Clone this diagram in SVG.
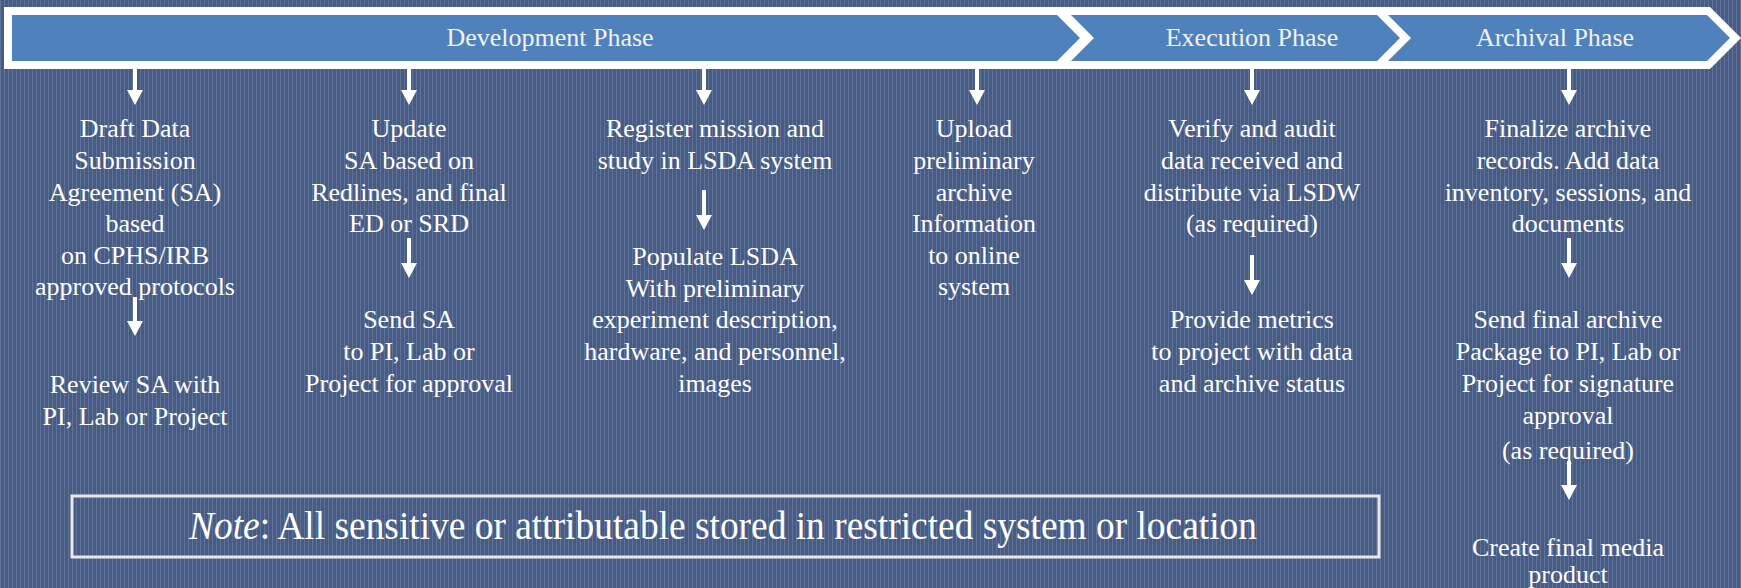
<svg xmlns="http://www.w3.org/2000/svg" width="1741" height="588" viewBox="0 0 1741 588">
<defs>
<pattern id="stripes" width="4" height="8" patternUnits="userSpaceOnUse">
<rect width="4" height="8" fill="#485b82"/>
<rect width="1" height="8" fill="#5f729a"/>
</pattern>
<marker id="head" viewBox="0 0 15 16" markerWidth="15" markerHeight="16" refX="4" refY="8" orient="auto" markerUnits="userSpaceOnUse">
<path d="M0,0 L15,8 L0,16 z" fill="#ffffff"/>
</marker>
<style>
.t{font-family:"Liberation Serif","Times New Roman",serif;font-size:26px;fill:#ffffff;text-anchor:middle}
.ph{font-family:"Liberation Serif","Times New Roman",serif;font-size:26px;fill:#f2f2f2;text-anchor:middle}
.band{fill:#4f81bd}
.arr{stroke:#ffffff;stroke-width:4;fill:none;marker-end:url(#head)}
.note{font-family:"Liberation Serif","Times New Roman",serif;font-size:40px;fill:#ffffff}
</style>
</defs>
<rect width="1741" height="588" fill="url(#stripes)"/>

<g id="connectors">
<line class="arr" x1="135" y1="67" x2="135" y2="94"/>
<line class="arr" x1="409" y1="67" x2="409" y2="94"/>
<line class="arr" x1="704" y1="67" x2="704" y2="94"/>
<line class="arr" x1="977" y1="67" x2="977" y2="94"/>
<line class="arr" x1="1252" y1="67" x2="1252" y2="94"/>
<line class="arr" x1="1569" y1="67" x2="1569" y2="94"/>
<line class="arr" x1="135" y1="297" x2="135" y2="325"/>
<line class="arr" x1="409" y1="238" x2="409" y2="267"/>
<line class="arr" x1="704" y1="190" x2="704" y2="219"/>
<line class="arr" x1="1252" y1="255" x2="1252" y2="284"/>
<line class="arr" x1="1569" y1="238" x2="1569" y2="267"/>
<line class="arr" x1="1569" y1="461" x2="1569" y2="489"/>
</g>

<g id="banner">
<polygon points="4,7 1710,7 1741,38 1710,69 4,69" fill="#ffffff"/>
<g id="development-phase">
<polygon class="band" points="12,15 1057,15 1080,38 1057,61 12,61"/>
<text class="ph" x="550" y="46">Development Phase</text>
</g>
<g id="execution-phase">
<polygon class="band" points="1071,15 1377,15 1400,38 1377,61 1071,61 1094,38"/>
<text class="ph" x="1252" y="46">Execution Phase</text>
</g>
<g id="archival-phase">
<polygon class="band" points="1388,15 1707,15 1730,38 1707,61 1388,61 1411,38"/>
<text class="ph" x="1555" y="46">Archival Phase</text>
</g>
</g>

<g id="draft-sa">
<text class="t" x="135" y="137">Draft Data</text>
<text class="t" x="135" y="169">Submission</text>
<text class="t" x="135" y="201">Agreement (SA)</text>
<text class="t" x="135" y="232">based</text>
<text class="t" x="135" y="264">on CPHS/IRB</text>
<text class="t" x="135" y="295">approved protocols</text>
</g>
<g id="review-sa">
<text class="t" x="135" y="393">Review SA with</text>
<text class="t" x="135" y="425">PI, Lab or Project</text>
</g>

<g id="update-sa">
<text class="t" x="409" y="137">Update</text>
<text class="t" x="409" y="169">SA based on</text>
<text class="t" x="409" y="201">Redlines, and final</text>
<text class="t" x="409" y="232">ED or SRD</text>
</g>
<g id="send-sa">
<text class="t" x="409" y="328">Send SA</text>
<text class="t" x="409" y="360">to PI, Lab or</text>
<text class="t" x="409" y="392">Project for approval</text>
</g>

<g id="register-mission">
<text class="t" x="715" y="137">Register mission and</text>
<text class="t" x="715" y="169">study in LSDA system</text>
</g>
<g id="populate-lsda">
<text class="t" x="715" y="265">Populate LSDA</text>
<text class="t" x="715" y="297">With preliminary</text>
<text class="t" x="715" y="328">experiment description,</text>
<text class="t" x="715" y="360">hardware, and personnel,</text>
<text class="t" x="715" y="392">images</text>
</g>

<g id="upload-archive">
<text class="t" x="974" y="137">Upload</text>
<text class="t" x="974" y="169">preliminary</text>
<text class="t" x="974" y="201">archive</text>
<text class="t" x="974" y="232">Information</text>
<text class="t" x="974" y="264">to online</text>
<text class="t" x="974" y="295">system</text>
</g>

<g id="verify-audit">
<text class="t" x="1252" y="137">Verify and audit</text>
<text class="t" x="1252" y="169">data received and</text>
<text class="t" x="1252" y="201">distribute via LSDW</text>
<text class="t" x="1252" y="232">(as required)</text>
</g>
<g id="provide-metrics">
<text class="t" x="1252" y="328">Provide metrics</text>
<text class="t" x="1252" y="360">to project with data</text>
<text class="t" x="1252" y="392">and archive status</text>
</g>

<g id="finalize-archive">
<text class="t" x="1568" y="137">Finalize archive</text>
<text class="t" x="1568" y="169">records. Add data</text>
<text class="t" x="1568" y="201">inventory, sessions, and</text>
<text class="t" x="1568" y="232">documents</text>
</g>
<g id="send-final-archive">
<text class="t" x="1568" y="328">Send final archive</text>
<text class="t" x="1568" y="360">Package to PI, Lab or</text>
<text class="t" x="1568" y="392">Project for signature</text>
<text class="t" x="1568" y="424">approval</text>
<text class="t" x="1568" y="459">(as required)</text>
</g>
<g id="create-media">
<text class="t" x="1568" y="556">Create final media</text>
<text class="t" x="1568" y="583">product</text>
</g>

<g id="note">
<rect x="72" y="496" width="1307" height="61" fill="none" stroke="#e8e8e8" stroke-width="3"/>
<text class="note" x="189" y="539" textLength="1068" lengthAdjust="spacingAndGlyphs"><tspan font-style="italic">Note</tspan>: All sensitive or attributable stored in restricted system or location</text>
</g>
</svg>
